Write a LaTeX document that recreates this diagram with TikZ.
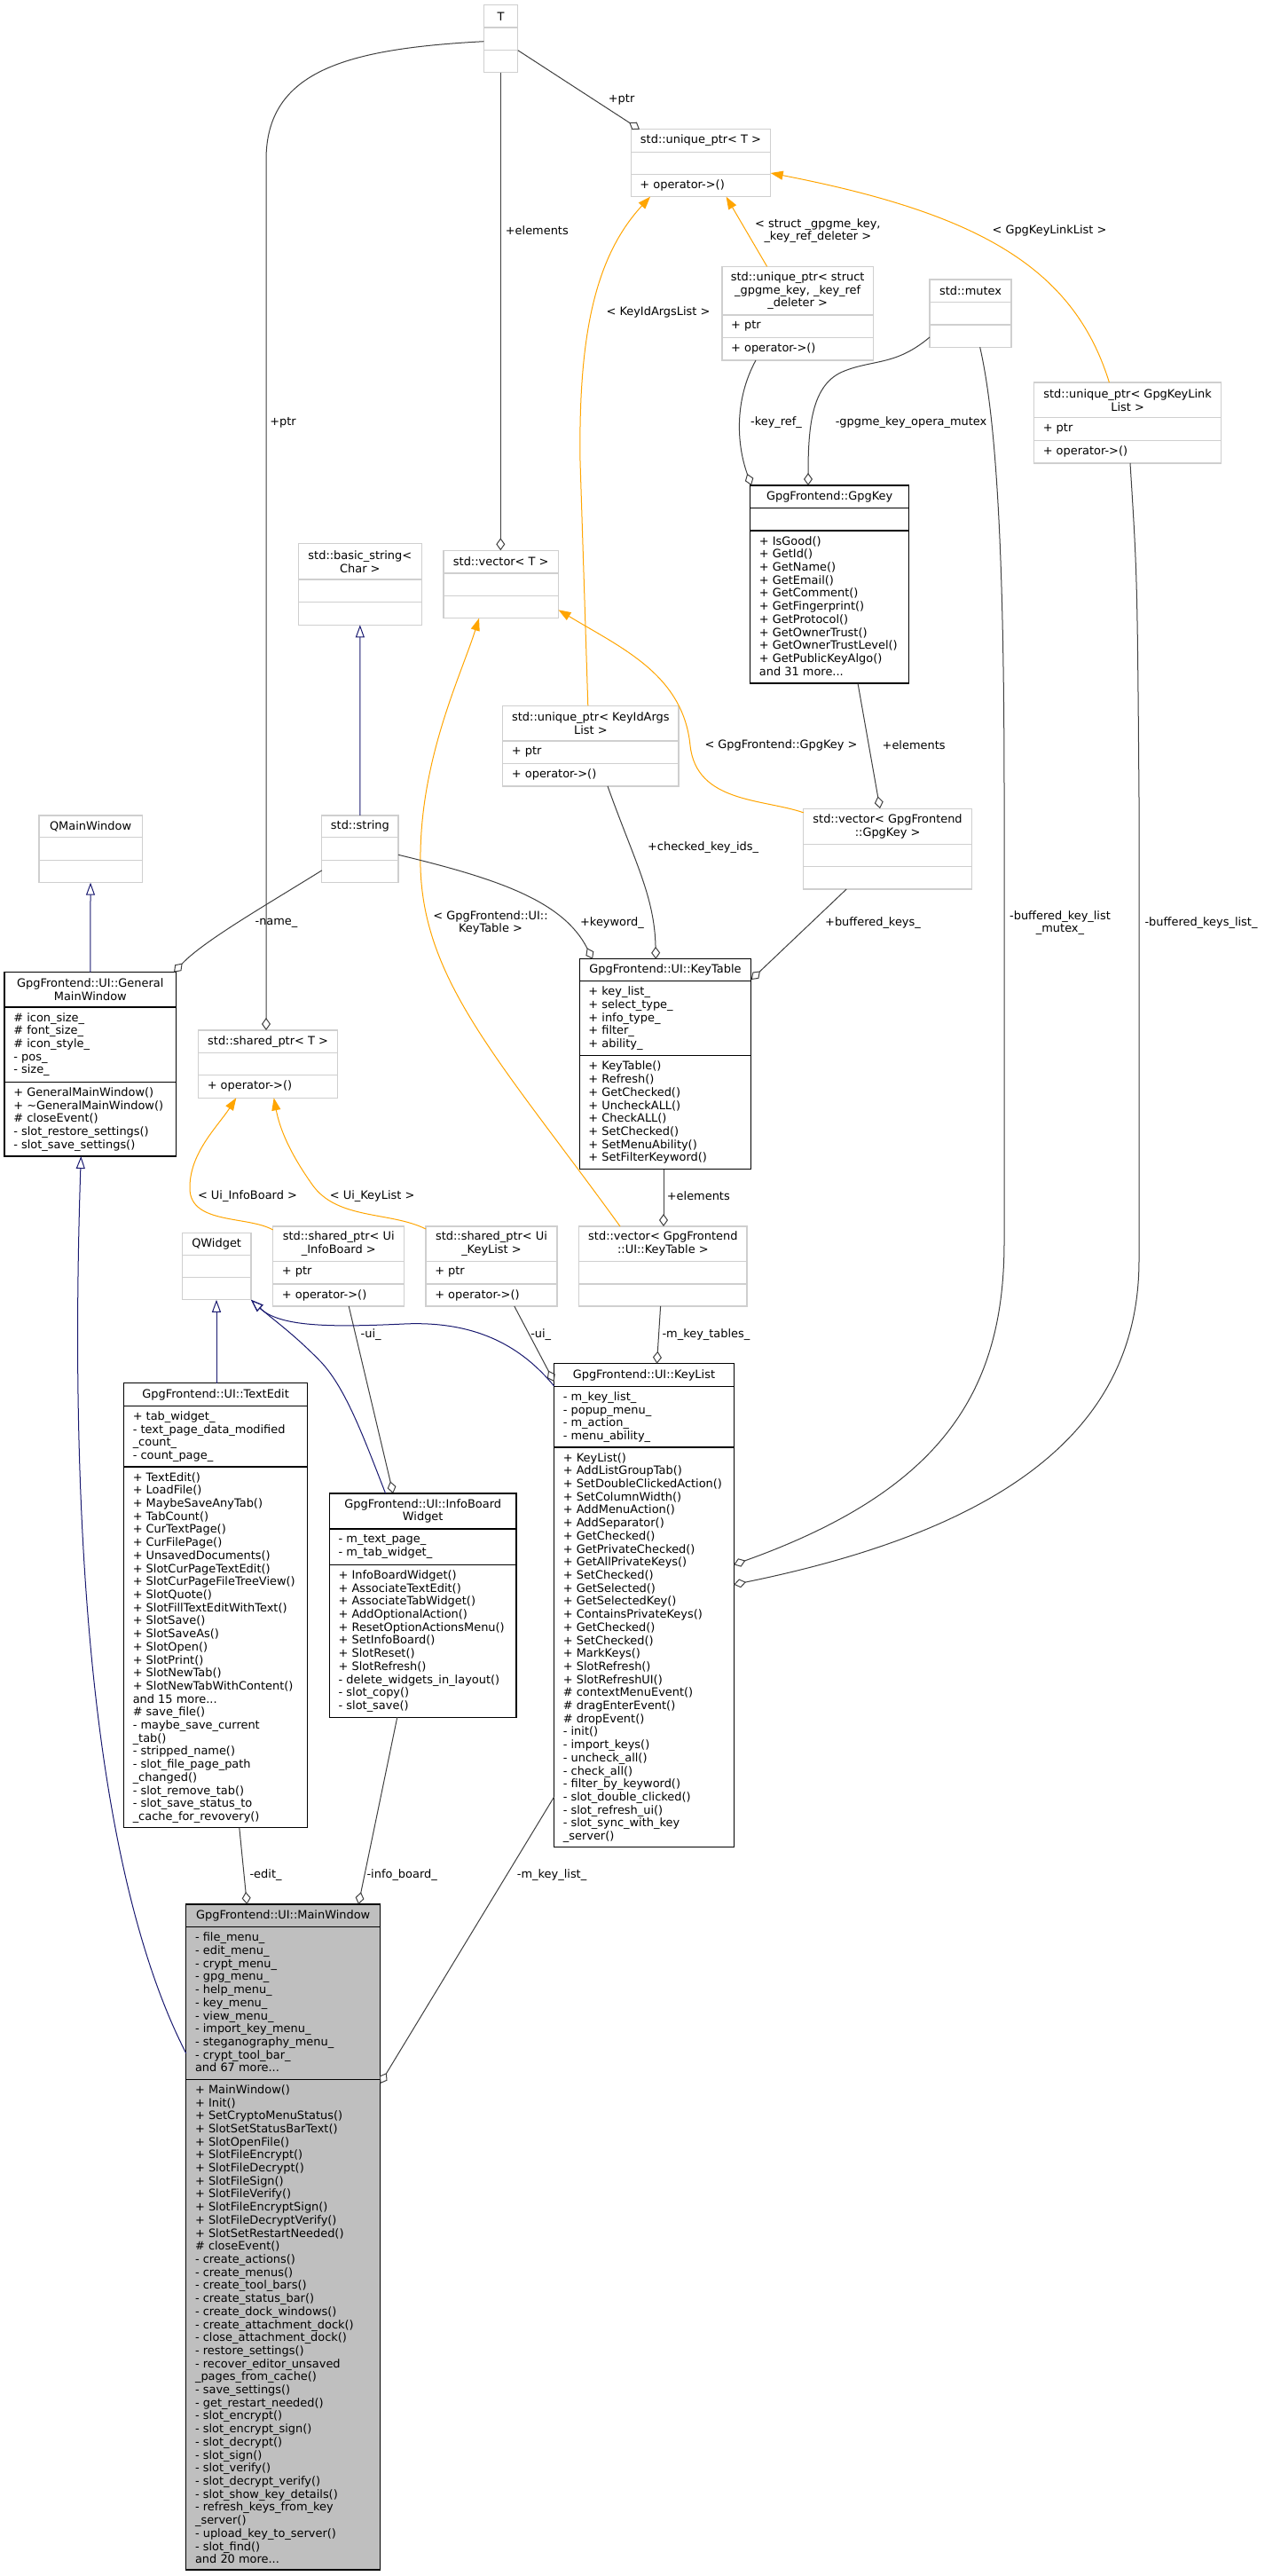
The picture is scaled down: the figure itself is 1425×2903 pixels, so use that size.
\documentclass[tikz,border=0pt]{standalone}
\usepackage{fontspec}
\setmainfont{DejaVu Sans}
\usetikzlibrary{arrows.meta,calc}
\definecolor{extgray}{HTML}{CFCFCF}
\definecolor{maingray}{HTML}{BFBFBF}
\definecolor{edgegray}{HTML}{404040}
\definecolor{inhblue}{HTML}{191970}
\definecolor{tmplorange}{HTML}{FFA500}
\newcommand\dfont{\fontsize{9.7pt}{11.03pt}\selectfont}
% #1 style, #2 name, #3 x1, #4 y1, #5 x2, #6 y2, #7 divider1, #8 divider2, #9 title
\newcommand\umlbox[9]{%
  \node[#1, minimum width={(#5-#3)*0.75pt}, minimum height={(#6-#4)*0.75pt}] (#2) at (#3,#4) {};
  \draw[#1] (#3,#7) -- (#5,#7) (#3,#8) -- (#5,#8);
  \node[ttl] (#2-t) at ({(#3+#5)/2},{(#4+#7)/2}) {#9};
}
\newcommand\members[4]{\node[memb] (#1) at (#2+10,#3+6) {#4};}
\begin{document}
\begin{tikzpicture}[x=0.75pt,y=-0.75pt,
  box/.style={anchor=north west, inner sep=0pt, outer sep=0pt, line width=1pt},
  ext/.style={box, draw=extgray},
  cls/.style={box, draw=black},
  mainc/.style={box, draw=black, fill=maingray},
  ttl/.style={font=\dfont, align=center, inner sep=0pt},
  memb/.style={font=\dfont, align=left, anchor=north west, inner sep=0pt},
  lbl/.style={font=\dfont, align=center, inner sep=0pt},
  lbll/.style={lbl, anchor=west},
  agg/.style={draw=edgegray, line width=0.75pt, -{Diamond[open, length=10.5pt, width=7.5pt]}},
  inh/.style={draw=inhblue, line width=0.75pt, -{Triangle[open, length=10.5pt, width=7.5pt]}},
  tmpl/.style={draw=tmplorange, line width=0.75pt, -{Triangle[length=10.5pt, width=7.5pt]}}]
\fill[white] (0,0) rectangle (1425,2903);
\useasboundingbox (0,0) rectangle (1425,2903);

% ---------- boxes ----------
\umlbox{ext}{T}{545.4}{5.7}{583.8}{81.7}{31}{56.7}{T}
\umlbox{ext}{uptrT}{711.2}{145.7}{868.7}{221.7}{171.3}{196.7}{std::unique\_ptr< T >}
\members{uptrT-m}{711.2}{196.7}{+ operator->()}
\umlbox{ext}{uptrGK}{813.9}{300.3}{984.4}{406}{355}{380.7}{std::unique\_ptr< struct\\\_gpgme\_key, \_key\_ref\\\_deleter >}
\members{uptrGK-a}{813.9}{355}{+ ptr}
\members{uptrGK-m}{813.9}{380.7}{+ operator->()}
\umlbox{ext}{mutex}{1048}{315}{1140}{391.3}{340.7}{366}{std::mutex}
\umlbox{ext}{uptrKLL}{1165.5}{431}{1376.7}{522}{470.7}{496.7}{std::unique\_ptr< GpgKeyLink\\List >}
\members{uptrKLL-a}{1165.5}{470.7}{+ ptr}
\members{uptrKLL-m}{1165.5}{496.7}{+ operator->()}
\umlbox{cls}{GpgKey}{845.7}{547}{1024.5}{770}{572.7}{598}{GpgFrontend::GpgKey}
\members{GpgKey-m}{845.7}{598}{+ IsGood()\\+ GetId()\\+ GetName()\\+ GetEmail()\\+ GetComment()\\+ GetFingerprint()\\+ GetProtocol()\\+ GetOwnerTrust()\\+ GetOwnerTrustLevel()\\+ GetPublicKeyAlgo()\\and 31 more...}
\umlbox{ext}{vecT}{500}{620.3}{629.5}{696.7}{646}{671.4}{std::vector< T >}
\umlbox{ext}{bstr}{336.4}{612.8}{475.3}{704.3}{653}{678.6}{std::basic\_string<\\Char >}
\umlbox{ext}{uptrKIA}{566.7}{795.3}{765}{886}{835}{860.7}{std::unique\_ptr< KeyIdArgs\\List >}
\members{uptrKIA-a}{566.7}{835}{+ ptr}
\members{uptrKIA-m}{566.7}{860.7}{+ operator->()}
\umlbox{ext}{vecGK}{905.8}{911.2}{1095.3}{1002}{951.4}{976.3}{std::vector< GpgFrontend\\::GpgKey >}
\umlbox{ext}{QMW}{43.9}{918.9}{160.2}{994.7}{943.8}{969.4}{QMainWindow}
\umlbox{ext}{string}{362.8}{918.9}{449}{994.7}{943.8}{969.4}{std::string}
\umlbox{cls}{GMW}{5.1}{1095.7}{198.5}{1303}{1135}{1219.3}{GpgFrontend::UI::General\\MainWindow}
\members{GMW-a}{5.1}{1135}{\# icon\_size\_\\\# font\_size\_\\\# icon\_style\_\\- pos\_\\- size\_}
\members{GMW-m}{5.1}{1219.3}{+ GeneralMainWindow()\\+ \textasciitilde GeneralMainWindow()\\\# closeEvent()\\- slot\_restore\_settings()\\- slot\_save\_settings()}
\umlbox{cls}{KeyTable}{653.2}{1080.8}{846.8}{1317.7}{1105.6}{1189.8}{GpgFrontend::UI::KeyTable}
\members{KeyTable-a}{653.2}{1105.6}{+ key\_list\_\\+ select\_type\_\\+ info\_type\_\\+ filter\_\\+ ability\_}
\members{KeyTable-m}{653.2}{1189.8}{+ KeyTable()\\+ Refresh()\\+ GetChecked()\\+ UncheckALL()\\+ CheckALL()\\+ SetChecked()\\+ SetMenuAbility()\\+ SetFilterKeyword()}
\umlbox{ext}{sptrT}{223.5}{1161}{380.6}{1237.3}{1186.8}{1211.7}{std::shared\_ptr< T >}
\members{sptrT-m}{223.5}{1211.7}{+ operator->()}
\umlbox{ext}{sptrIB}{307.7}{1382}{455.8}{1472}{1421.4}{1447}{std::shared\_ptr< Ui\\\_InfoBoard >}
\members{sptrIB-a}{307.7}{1421.4}{+ ptr}
\members{sptrIB-m}{307.7}{1447}{+ operator->()}
\umlbox{ext}{sptrKL}{480}{1382}{628}{1472}{1421.4}{1447}{std::shared\_ptr< Ui\\\_KeyList >}
\members{sptrKL-a}{480}{1421.4}{+ ptr}
\members{sptrKL-m}{480}{1447}{+ operator->()}
\umlbox{ext}{vecKT}{652.7}{1382}{842}{1472}{1421.4}{1447}{std::vector< GpgFrontend\\::UI::KeyTable >}
\umlbox{ext}{QWidget}{205.3}{1389.2}{283}{1464.8}{1414.5}{1439.6}{QWidget}
\umlbox{cls}{TextEdit}{139.5}{1558.7}{346.7}{2059.7}{1584.2}{1653}{GpgFrontend::UI::TextEdit}
\members{TextEdit-a}{139.5}{1584.2}{+ tab\_widget\_\\- text\_page\_data\_modified\\\_count\_\\- count\_page\_}
\members{TextEdit-m}{139.5}{1653}{+ TextEdit()\\+ LoadFile()\\+ MaybeSaveAnyTab()\\+ TabCount()\\+ CurTextPage()\\+ CurFilePage()\\+ UnsavedDocuments()\\+ SlotCurPageTextEdit()\\+ SlotCurPageFileTreeView()\\+ SlotQuote()\\+ SlotFillTextEditWithText()\\+ SlotSave()\\+ SlotSaveAs()\\+ SlotOpen()\\+ SlotPrint()\\+ SlotNewTab()\\+ SlotNewTabWithContent()\\and 15 more...\\\# save\_file()\\- maybe\_save\_current\\\_tab()\\- stripped\_name()\\- slot\_file\_page\_path\\\_changed()\\- slot\_remove\_tab()\\- slot\_save\_status\_to\\\_cache\_for\_revovery()}
\umlbox{cls}{InfoBoard}{371.4}{1683}{582}{1935.2}{1723}{1763.3}{GpgFrontend::UI::InfoBoard\\Widget}
\members{InfoBoard-a}{371.4}{1723}{- m\_text\_page\_\\- m\_tab\_widget\_}
\members{InfoBoard-m}{371.4}{1763.3}{+ InfoBoardWidget()\\+ AssociateTextEdit()\\+ AssociateTabWidget()\\+ AddOptionalAction()\\+ ResetOptionActionsMenu()\\+ SetInfoBoard()\\+ SlotReset()\\+ SlotRefresh()\\- delete\_widgets\_in\_layout()\\- slot\_copy()\\- slot\_save()}
\umlbox{cls}{KeyList}{624.6}{1536.7}{827.2}{2081.6}{1562.2}{1631}{GpgFrontend::UI::KeyList}
\members{KeyList-a}{624.6}{1562.2}{- m\_key\_list\_\\- popup\_menu\_\\- m\_action\_\\- menu\_ability\_}
\members{KeyList-m}{624.6}{1631}{+ KeyList()\\+ AddListGroupTab()\\+ SetDoubleClickedAction()\\+ SetColumnWidth()\\+ AddMenuAction()\\+ AddSeparator()\\+ GetChecked()\\+ GetPrivateChecked()\\+ GetAllPrivateKeys()\\+ SetChecked()\\+ GetSelected()\\+ GetSelectedKey()\\+ ContainsPrivateKeys()\\+ GetChecked()\\+ SetChecked()\\+ MarkKeys()\\+ SlotRefresh()\\+ SlotRefreshUI()\\\# contextMenuEvent()\\\# dragEnterEvent()\\\# dropEvent()\\- init()\\- import\_keys()\\- uncheck\_all()\\- check\_all()\\- filter\_by\_keyword()\\- slot\_double\_clicked()\\- slot\_refresh\_ui()\\- slot\_sync\_with\_key\\\_server()}
\umlbox{mainc}{MainWindow}{209.8}{2146}{428.6}{2896}{2171.7}{2343.2}{GpgFrontend::UI::MainWindow}
\members{MainWindow-a}{209.8}{2171.7}{- file\_menu\_\\- edit\_menu\_\\- crypt\_menu\_\\- gpg\_menu\_\\- help\_menu\_\\- key\_menu\_\\- view\_menu\_\\- import\_key\_menu\_\\- steganography\_menu\_\\- crypt\_tool\_bar\_\\and 67 more...}
\members{MainWindow-m}{209.8}{2343.2}{+ MainWindow()\\+ Init()\\+ SetCryptoMenuStatus()\\+ SlotSetStatusBarText()\\+ SlotOpenFile()\\+ SlotFileEncrypt()\\+ SlotFileDecrypt()\\+ SlotFileSign()\\+ SlotFileVerify()\\+ SlotFileEncryptSign()\\+ SlotFileDecryptVerify()\\+ SlotSetRestartNeeded()\\\# closeEvent()\\- create\_actions()\\- create\_menus()\\- create\_tool\_bars()\\- create\_status\_bar()\\- create\_dock\_windows()\\- create\_attachment\_dock()\\- close\_attachment\_dock()\\- restore\_settings()\\- recover\_editor\_unsaved\\\_pages\_from\_cache()\\- save\_settings()\\- get\_restart\_needed()\\- slot\_encrypt()\\- slot\_encrypt\_sign()\\- slot\_decrypt()\\- slot\_sign()\\- slot\_verify()\\- slot\_decrypt\_verify()\\- slot\_show\_key\_details()\\- refresh\_keys\_from\_key\\\_server()\\- upload\_key\_to\_server()\\- slot\_find()\\and 20 more...}

% ---------- connectors ----------
\draw[agg] (T.east |- 0,56.7) -- (uptrT.north -| 721,0);
\draw[agg] (T.south -| 564.3,0) -- (vecT.north -| 564.3,0);
\draw[agg] (T.west |- 0,46.7) .. controls (390,55) and (300,80) .. (300,180) -- (sptrT.north -| 300,0);
\draw[tmpl] (uptrGK.north -| 864.6,0) -- (uptrT.south -| 818.6,0);
\draw[tmpl] (uptrKIA.north -| 662.8,0) -- (654,520) .. controls (652,380) and (670,290) .. (uptrT.south -| 733,0);
\draw[tmpl] (uptrKLL.north -| 1250.4,0) .. controls (1210,300) and (1100,240) .. (uptrT.east |- 0,195);
\draw[agg] (uptrGK.south -| 852,0) .. controls (828,450) and (830,500) .. (GpgKey.north -| 847,0);
\draw[agg] (mutex.west |- 0,380) .. controls (1010,412) and (985,405) .. (952,418) .. controls (915,432) and (911,480) .. (GpgKey.north -| 911,0);
\draw[agg] (mutex.south -| 1104.7,0) .. controls (1125,480) and (1132,650) .. (1132,900) -- (1132,1400) .. controls (1132,1570) and (1060,1680) .. (KeyList.east |- 0,1763.3);
\draw[agg] (uptrKLL.south -| 1274,0) .. controls (1282,650) .. (1284,900) -- (1284,1420) .. controls (1284,1600) and (1150,1720) .. (KeyList.east |- 0,1785.7);
\draw[agg] (GpgKey.south -| 967,0) -- (vecGK.north -| 992,0);
\draw[tmpl] (vecGK.west |- 0,915.8) .. controls (860,900) and (785,905) .. (778,840) .. controls (770,760) and (700,730) .. (vecT.east |- 0,687.3);
\draw[tmpl] (vecKT.north -| 699,0) .. controls (560,1190) and (470,1100) .. (474,960) .. controls (476,850) and (520,760) .. (vecT.south -| 540,0);
\draw[inh] (string.north) -- (bstr.south);
\draw[inh] (GMW.north) -- (QMW.south);
\draw[agg] (string.west |- 0,980.9) .. controls (300,1020) and (230,1060) .. (GMW.north -| 196,0);
\draw[agg] (string.east |- 0,963.3) .. controls (560,990) and (635,1015) .. (KeyTable.north -| 668,0);
\draw[agg] (uptrKIA.south -| 685,0) .. controls (715,970) and (738,1010) .. (KeyTable.north -| 739.3,0);
\draw[agg] (vecGK.south -| 954.2,0) -- (KeyTable.east |- 0,1104);
\draw[agg] (KeyTable.south -| 748,0) -- (vecKT.north -| 748,0);
\draw[tmpl] (sptrIB.west |- 0,1386) .. controls (280,1370) and (215,1380) .. (214,1340) .. controls (213,1300) and (245,1270) .. (sptrT.south -| 266.3,0);
\draw[tmpl] (sptrKL.west |- 0,1385) .. controls (440,1365) and (380,1375) .. (352,1335) .. controls (325,1297) and (315,1270) .. (sptrT.south -| 308.7,0);
\draw[agg] (sptrIB.south -| 393.2,0) -- (InfoBoard.north -| 443.2,0);
\draw[agg] (sptrKL.south -| 579.8,0) -- (KeyList.west |- 0,1557);
\draw[agg] (vecKT.south -| 744.6,0) -- (KeyList.north -| 740.5,0);
\draw[inh] (TextEdit.north -| 244,0) -- (QWidget.south -| 244,0);
\draw[inh] (InfoBoard.north -| 434.6,0) .. controls (410,1620) and (390,1565) .. (362,1535) .. controls (330,1502) and (305,1485) .. (QWidget.south east);
\draw[inh] (KeyList.west |- 0,1562) .. controls (590,1520) and (540,1488) .. (455,1492) .. controls (370,1496) and (315,1495) .. (QWidget.south east);
\draw[inh] (MainWindow.west |- 0,2314) .. controls (100,2100) and (78,1700) .. (GMW.south -| 91.3,0);
\draw[agg] (TextEdit.south -| 269.8,0) -- (MainWindow.north -| 278.4,0);
\draw[agg] (InfoBoard.south -| 447.8,0) -- (MainWindow.north -| 404.1,0);
\draw[agg] (KeyList.west |- 0,2025) -- (MainWindow.east |- 0,2348);

% ---------- labels ----------
\node[lbl] (l-ptr1) at (700.6,112.7) {+ptr};
\node[lbll] (l-elem1) at (569.6,260) {+elements};
\node[lbll] (l-ptr2) at (304,476) {+ptr};
\node[lbl] (l-struct) at (921.8,260) {< struct \_gpgme\_key,\\\_key\_ref\_deleter >};
\node[lbl] (l-gkll) at (1183,260) {< GpgKeyLinkList >};
\node[lbl] (l-kial) at (742,352) {< KeyIdArgsList >};
\node[lbl] (l-keyref) at (875,476) {-key\_ref\_};
\node[lbl] (l-mutex) at (1027,476) {-gpgme\_key\_opera\_mutex};
\node[lbl] (l-gk) at (880.5,840) {< GpgFrontend::GpgKey >};
\node[lbll] (l-elem2) at (994.4,840) {+elements};
\node[lbl] (l-bklm) at (1195,1040) {-buffered\_key\_list\\\_mutex\_};
\node[lbl] (l-bkl) at (1354,1040) {-buffered\_keys\_list\_};
\node[lbl] (l-name) at (311.5,1040) {-name\_};
\node[lbl] (l-kt) at (553,1040) {< GpgFrontend::UI::\\KeyTable >};
\node[lbl] (l-kw) at (690,1040) {+keyword\_};
\node[lbl] (l-cki) at (792.6,955) {+checked\_key\_ids\_};
\node[lbl] (l-bk) at (984,1040) {+buffered\_keys\_};
\node[lbll] (l-elem3) at (751.6,1348) {+elements};
\node[lbl] (l-uiib) at (279,1348) {< Ui\_InfoBoard >};
\node[lbl] (l-uikl) at (419.6,1348) {< Ui\_KeyList >};
\node[lbll] (l-ui1) at (406.4,1503.6) {-ui\_};
\node[lbll] (l-ui2) at (598,1503.6) {-ui\_};
\node[lbll] (l-mkt) at (746.3,1503.6) {-m\_key\_tables\_};
\node[lbll] (l-edit) at (281.3,2112.8) {-edit\_};
\node[lbll] (l-ib) at (413.3,2112.8) {-info\_board\_};
\node[lbll] (l-mkl) at (582.7,2112.8) {-m\_key\_list\_};
\end{tikzpicture}
\end{document}
